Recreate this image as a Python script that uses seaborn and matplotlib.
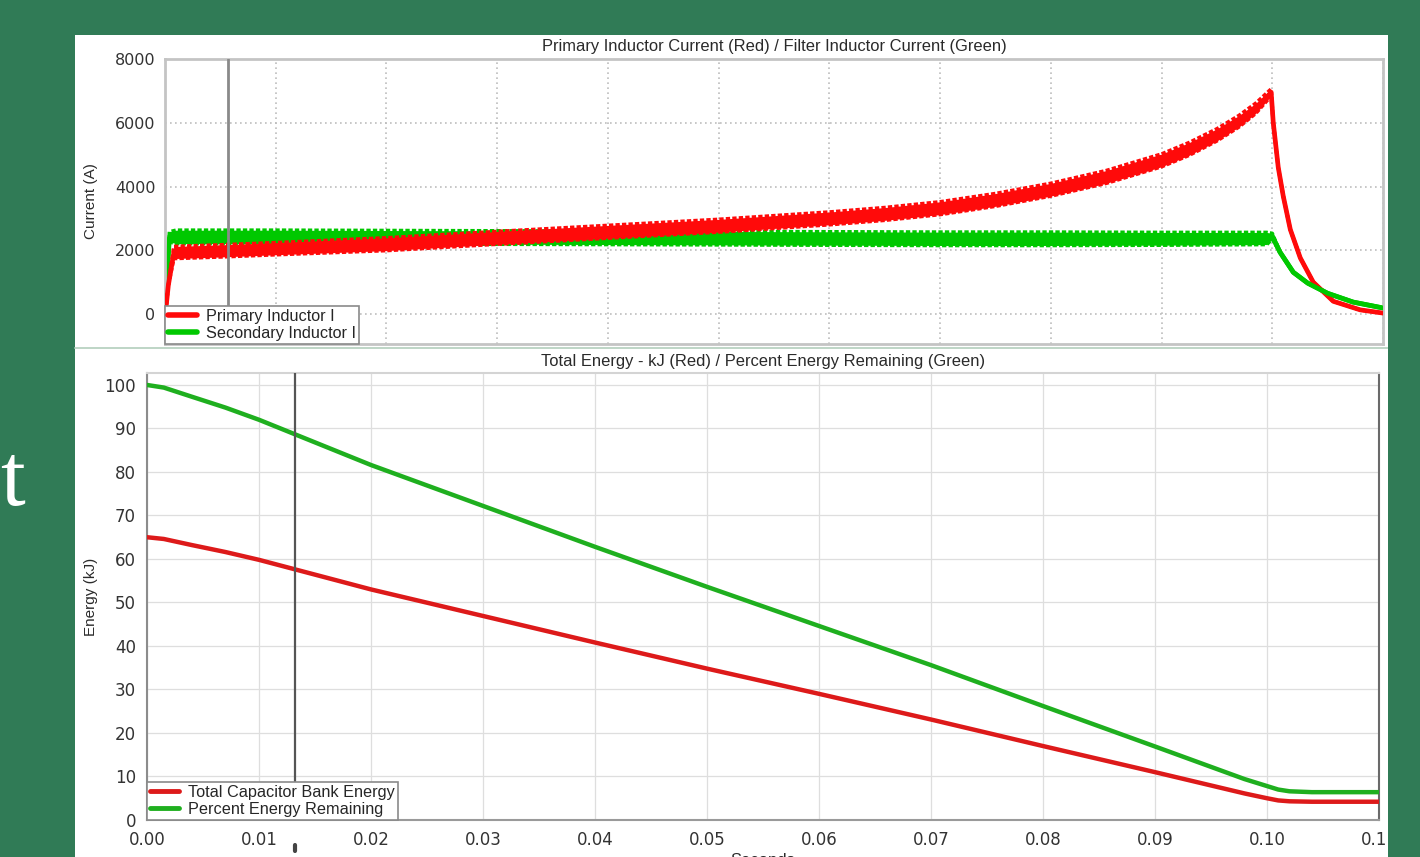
import numpy as np
import pandas as pd
import matplotlib
matplotlib.use("Agg")
import matplotlib.pyplot as plt
import seaborn as sns
from matplotlib.patches import Rectangle
from matplotlib.lines import Line2D

# ---------------- data ----------------
# Upper panel: inductor currents (A) vs time (s)
t_primary = [0.0, 0.0003, 0.0008, 0.005, 0.01, 0.02, 0.03, 0.04, 0.05, 0.06,
             0.065, 0.07, 0.075, 0.08, 0.085, 0.09, 0.0925, 0.095, 0.097,
             0.0985, 0.0999,
             0.10009, 0.10054, 0.10099, 0.10163, 0.10253, 0.1037, 0.10551,
             0.10795, 0.11]
primary_current = [-100, 900, 1930, 1980, 2050, 2190, 2390, 2580, 2770, 3000,
                   3140, 3320, 3580, 3900, 4300, 4820, 5180, 5620, 6050,
                   6450, 6950,
                   6000, 4600, 3700, 2650, 1760, 1000, 400,
                   130, 30]
primary_ripple = [0, 0, 190, 190, 190, 200, 200, 200, 200, 200,
                  200, 200, 200, 200, 200, 200, 200, 190, 180,
                  160, 110,
                  0, 0, 0, 0, 0, 0, 0,
                  0, 0]

t_secondary = [0.0, 0.0004, 0.001, 0.01, 0.02, 0.03, 0.04, 0.05, 0.06, 0.07,
               0.08, 0.09, 0.0995, 0.1,
               0.1007, 0.1019, 0.1032, 0.105, 0.1073, 0.11]
secondary_current = [0, 2420, 2420, 2420, 2410, 2400, 2390, 2380, 2370, 2360,
                     2360, 2360, 2370, 2440,
                     1940, 1310, 970, 650, 375, 190]
secondary_ripple = [0, 160, 210, 210, 210, 210, 210, 210, 210, 210,
                    210, 200, 190, 90,
                    0, 0, 0, 0, 0, 0]

# Lower panel: energy (kJ) and percent remaining vs time (s)
t_energy = [0.0, 0.0015, 0.004, 0.007, 0.01, 0.02, 0.03, 0.04, 0.05, 0.06, 0.07,
            0.08, 0.09, 0.098, 0.1, 0.101, 0.102, 0.104, 0.11]
bank_energy = [65.0, 64.6, 63.2, 61.6, 59.8, 53.0, 46.9, 40.8, 34.8, 29.0, 23.1,
               17.0, 11.0, 6.1, 5.0, 4.5, 4.3, 4.2, 4.2]
percent_remaining = [100.0, 99.4, 97.3, 94.8, 92.0, 81.6, 72.2, 62.8, 53.6, 44.6,
                     35.6, 26.2, 16.9, 9.4, 7.8, 7.0, 6.6, 6.4, 6.4]

cursor_upper = 0.0057
cursor_lower = 0.0132

x_ticks = [0.00, 0.01, 0.02, 0.03, 0.04, 0.05, 0.06, 0.07, 0.08, 0.09, 0.10, 0.11]
x_tick_labels = ["0.00", "0.01", "0.02", "0.03", "0.04", "0.05", "0.06",
                 "0.07", "0.08", "0.09", "0.10", "0.11"]
current_ticks = [0, 2000, 4000, 6000, 8000]
energy_ticks = [0, 10, 20, 30, 40, 50, 60, 70, 80, 90, 100]

title_upper = "Primary Inductor Current (Red) / Filter Inductor Current (Green)"
title_lower = "Total Energy - kJ (Red) / Percent Energy Remaining (Green)"

# ---------------- styling ----------------
BG = "#307b56"
RED_UP, GREEN_UP = "#ff0a0a", "#00c800"
RED_LO, GREEN_LO = "#dd1a1a", "#1faf1f"
TXT = "#2a2a2a"

sns.set_theme(style="white")
plt.rcParams["font.family"] = ["Liberation Sans", "DejaVu Sans"]

W, H = 1420, 857
fig = plt.figure(figsize=(W / 100, H / 100), dpi=100, facecolor=BG)


def fx(px):
    return px / W


def fy(py):
    return 1 - py / H


# white chart panel
fig.add_artist(Rectangle((fx(75), 0), fx(1388) - fx(75), fy(35),
                         transform=fig.transFigure, facecolor="white",
                         edgecolor="none", zorder=-5))
fig.add_artist(Line2D([fx(75), fx(1388)], [fy(348), fy(348)],
                      transform=fig.transFigure, color="#b9d2c2", lw=1.3, zorder=-4))

# slide text fragment at the left edge
fig.text(fx(0), fy(505), "t", family="Liberation Serif", fontsize=64,
         color="white", ha="left", va="baseline")

# ---------------- upper panel ----------------
ax1 = fig.add_axes([fx(165), fy(344), fx(1383) - fx(165), fy(59) - fy(344)])
ax1.set_facecolor("white")

p = pd.DataFrame({"t": t_primary, "I": primary_current, "r": primary_ripple})
s = pd.DataFrame({"t": t_secondary, "I": secondary_current, "r": secondary_ripple})


def ripple_band(ax, df, color, z):
    """Switching ripple drawn as a filled band with serrated edges."""
    lo = df["I"] - df["r"]
    hi = df["I"] + df["r"]
    ax.fill_between(df["t"], lo, hi, color=color, lw=0, zorder=z)
    for edge in (lo, hi):
        ax.plot(df["t"], edge, color=color, lw=2.6, linestyle=(0, (1.2, 0.6)),
                zorder=z)
    sns.lineplot(data=df, x="t", y="I", ax=ax, color=color, lw=3.4,
                 estimator=None, sort=False, zorder=z)


ripple_band(ax1, s, GREEN_UP, 2)
ripple_band(ax1, p, RED_UP, 3)
# secondary current drawn again where it runs over the primary after cutoff
tail = s[s["t"] >= 0.1]
sns.lineplot(data=tail, x="t", y="I", ax=ax1, color=GREEN_UP, lw=3.4,
             estimator=None, sort=False, zorder=3.5)

ax1.axvline(cursor_upper, color="#8a8a8a", lw=2, zorder=5)

ax1.set_xlim(0, 0.11)
ax1.set_ylim(-940, 8000)
ax1.set_xticks(x_ticks)
ax1.set_yticks(current_ticks)
ax1.set_yticklabels([str(v) for v in current_ticks])
ax1.tick_params(axis="x", length=0, labelbottom=False)
ax1.tick_params(axis="y", length=5, width=1, color="#888888", pad=2,
                labelsize=11.5, labelcolor="#333333")
for lab in ax1.get_yticklabels():
    lab.set_family("DejaVu Sans")
ax1.grid(True, color="#bdbdbd", linestyle=(0, (1, 2)), lw=1.2, zorder=0)
for sp in ax1.spines.values():
    sp.set_color("#c4c4c4")
    sp.set_linewidth(2)
ax1.set_xlabel("")
ax1.set_ylabel("Current (A)", fontsize=11, color=TXT)
ax1.yaxis.set_label_coords((98 - 165) / 1218, 0.5)
ax1.set_title(title_upper, fontsize=11.9, color=TXT, pad=6)

h_up = [Line2D([], [], color=RED_UP, lw=4), Line2D([], [], color=GREEN_UP, lw=4)]
leg1 = ax1.legend(h_up, ["Primary Inductor I", "Secondary Inductor I"],
                  loc="lower left", bbox_to_anchor=(0, 0), borderaxespad=0,
                  frameon=True, fancybox=False, framealpha=1, edgecolor="#8a8a8a",
                  fontsize=11.7, handlelength=1.75, handletextpad=0.55,
                  borderpad=0.2, labelspacing=0.1)
leg1.get_frame().set_linewidth(1.2)
leg1.set_zorder(10)

# ---------------- lower panel ----------------
ax2 = fig.add_axes([fx(147), fy(820), fx(1379) - fx(147), fy(373) - fy(820)])
ax2.set_facecolor("white")

e = pd.DataFrame({"t": t_energy, "kJ": bank_energy, "pct": percent_remaining})
sns.lineplot(data=e, x="t", y="pct", ax=ax2, color=GREEN_LO, lw=3.2,
             estimator=None, sort=False, zorder=3)
sns.lineplot(data=e, x="t", y="kJ", ax=ax2, color=RED_LO, lw=3.2,
             estimator=None, sort=False, zorder=3)

ax2.axvline(cursor_lower, color="#555555", lw=1.6, zorder=5)
ax2.plot([cursor_lower, cursor_lower], [-0.056, -0.069], color="#444444", lw=3,
         transform=ax2.get_xaxis_transform(), clip_on=False, zorder=5)

ax2.set_xlim(0, 0.11)
ax2.set_ylim(0, 102.75)
ax2.set_xticks(x_ticks)
ax2.set_xticklabels(x_tick_labels)
ax2.set_yticks(energy_ticks)
ax2.set_yticklabels([str(v) for v in energy_ticks])
ax2.tick_params(axis="both", length=5, width=1, color="#888888", pad=3,
                labelsize=12, labelcolor="#333333")
for lab in ax2.get_xticklabels() + ax2.get_yticklabels():
    lab.set_family("DejaVu Sans")
ax2.grid(True, color="#dedede", lw=0.9, zorder=0)
ax2.spines["left"].set_color("#8c8c8c")
ax2.spines["bottom"].set_color("#9a9a9a")
ax2.spines["right"].set_color("#6a6a6a")
ax2.spines["top"].set_color("#d4d4d4")
for sp in ax2.spines.values():
    sp.set_linewidth(1.5)
ax2.set_ylabel("Energy (kJ)", fontsize=11, color=TXT)
ax2.yaxis.set_label_coords((98 - 147) / 1232, 0.5)
ax2.set_xlabel("Seconds", fontsize=12, color=TXT)
ax2.xaxis.set_label_coords(0.5, (820 - 853) / 447)
ax2.set_title(title_lower, fontsize=11.9, color=TXT, pad=5)

h_lo = [Line2D([], [], color=RED_LO, lw=3.5), Line2D([], [], color=GREEN_LO, lw=3.5)]
leg2 = ax2.legend(h_lo, ["Total Capacitor Bank Energy", "Percent Energy Remaining"],
                  loc="lower left", bbox_to_anchor=(0, 0), borderaxespad=0,
                  frameon=True, fancybox=False, framealpha=1, edgecolor="#8a8a8a",
                  fontsize=11.7, handlelength=1.75, handletextpad=0.55,
                  borderpad=0.2, labelspacing=0.1)
leg2.get_frame().set_linewidth(1.2)
leg2.set_zorder(10)

# green margin on the right trims the last tick label
fig.add_artist(Rectangle((fx(1388), 0), 1 - fx(1388), 1, transform=fig.transFigure,
                         facecolor=BG, edgecolor="none", zorder=50))

fig.savefig("out.png", dpi=100, facecolor=BG)
